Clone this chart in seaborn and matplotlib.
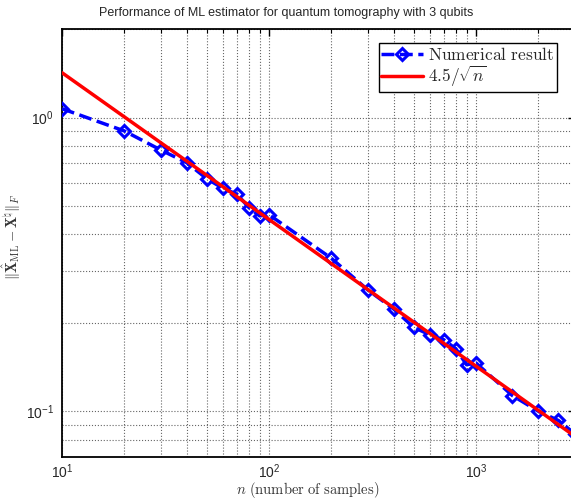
import numpy as np
import pandas as pd
import seaborn as sns
import matplotlib
matplotlib.use("Agg")
from matplotlib import pyplot as plt
from matplotlib.ticker import LogLocator, NullFormatter

# numerical result
n_samples = [10, 20, 30, 40, 50, 60, 70, 80, 90, 100,
             200, 300, 400, 500, 600, 700, 800, 900, 1000,
             1500, 2000, 2500, 3000]
ml_error = [1.073, 0.901, 0.776, 0.703, 0.620, 0.574, 0.549, 0.494, 0.463, 0.467,
            0.332, 0.259, 0.223, 0.193, 0.182, 0.175, 0.163, 0.144, 0.146,
            0.113, 0.100, 0.093, 0.0838]

# reference curve 4.5/sqrt(n), end points
fit_n = [10, 3000]
fit_err = [1.423, 0.0822]

sns.set_style("white")
plt.rcParams['font.family'] = ['Liberation Sans', 'DejaVu Sans']
plt.rcParams['mathtext.fontset'] = 'cm'

fig = plt.figure(figsize=(5.71, 5.0), dpi=100)
ax = fig.add_axes([62 / 571, 43.3 / 500, 512.8 / 571, 427.4 / 500])

num = pd.DataFrame({"n": n_samples, "err": ml_error})
fit = pd.DataFrame({"n": fit_n, "err": fit_err})

sns.lineplot(data=num, x="n", y="err", ax=ax, color="#0000ff", linestyle="--",
             linewidth=2.5, marker="D", markersize=6.5, markerfacecolor="none",
             markeredgecolor="#0000ff", markeredgewidth=2.2,
             label=r"$\mathrm{Numerical\ result}$", zorder=3)
sns.lineplot(data=fit, x="n", y="err", ax=ax, color="#ff0000", linewidth=2.5,
             label=r"$4.5/\sqrt{n}$", zorder=4)

ax.set_xscale("log")
ax.set_yscale("log")
ax.set_xlim(10, 3000)
ax.set_ylim(0.07, 2.0)

ax.xaxis.set_major_locator(LogLocator(base=10, numticks=10))
ax.yaxis.set_major_locator(LogLocator(base=10, numticks=10))
ax.xaxis.set_minor_locator(LogLocator(base=10, subs=np.arange(2, 10), numticks=20))
ax.yaxis.set_minor_locator(LogLocator(base=10, subs=np.arange(2, 10), numticks=20))
ax.xaxis.set_minor_formatter(NullFormatter())
ax.yaxis.set_minor_formatter(NullFormatter())

ax.grid(which="both", linestyle=":", color="#666666", linewidth=0.8)
ax.tick_params(which="both", direction="in", top=True, right=True, labelsize=10,
               color="black")
ax.tick_params(which="major", length=5, width=1, pad=6)
ax.tick_params(axis="x", which="major", pad=4)
ax.tick_params(which="minor", length=3, width=0.8)
for s in ax.spines.values():
    s.set_linewidth(1.3)
    s.set_color("black")

fig.text(286 / 571, 1 - 13 / 500,
         "Performance of ML estimator for quantum tomography with 3 qubits",
         fontsize=9, ha="center", va="center")
ax.set_xlabel(r"$n\ \mathrm{(number\ of\ samples)}$", fontsize=10.5,
              color="#333333")
ax.set_ylabel(r"$\|\hat{\mathbf{X}}_{\rm ML} - \mathbf{X}^{\natural}\|_F$",
              fontsize=10.5, color="#333333")
ax.xaxis.set_label_coords(0.5 - 11 / 512.8, -23 / 427.4)
ax.yaxis.set_label_coords(-39 / 512.8, 0.5 + 6 / 427.4)

leg = ax.legend(loc="upper right", bbox_to_anchor=(557 / 571, 1 - 43 / 500),
                bbox_transform=fig.transFigure, fontsize=12.5, frameon=True,
                fancybox=False, framealpha=1, edgecolor="black", borderpad=0.15,
                borderaxespad=0, handlelength=2.4, handletextpad=0.3,
                labelspacing=0.1)
leg.get_frame().set_linewidth(1.0)

fig.savefig("out.png", dpi=100)
